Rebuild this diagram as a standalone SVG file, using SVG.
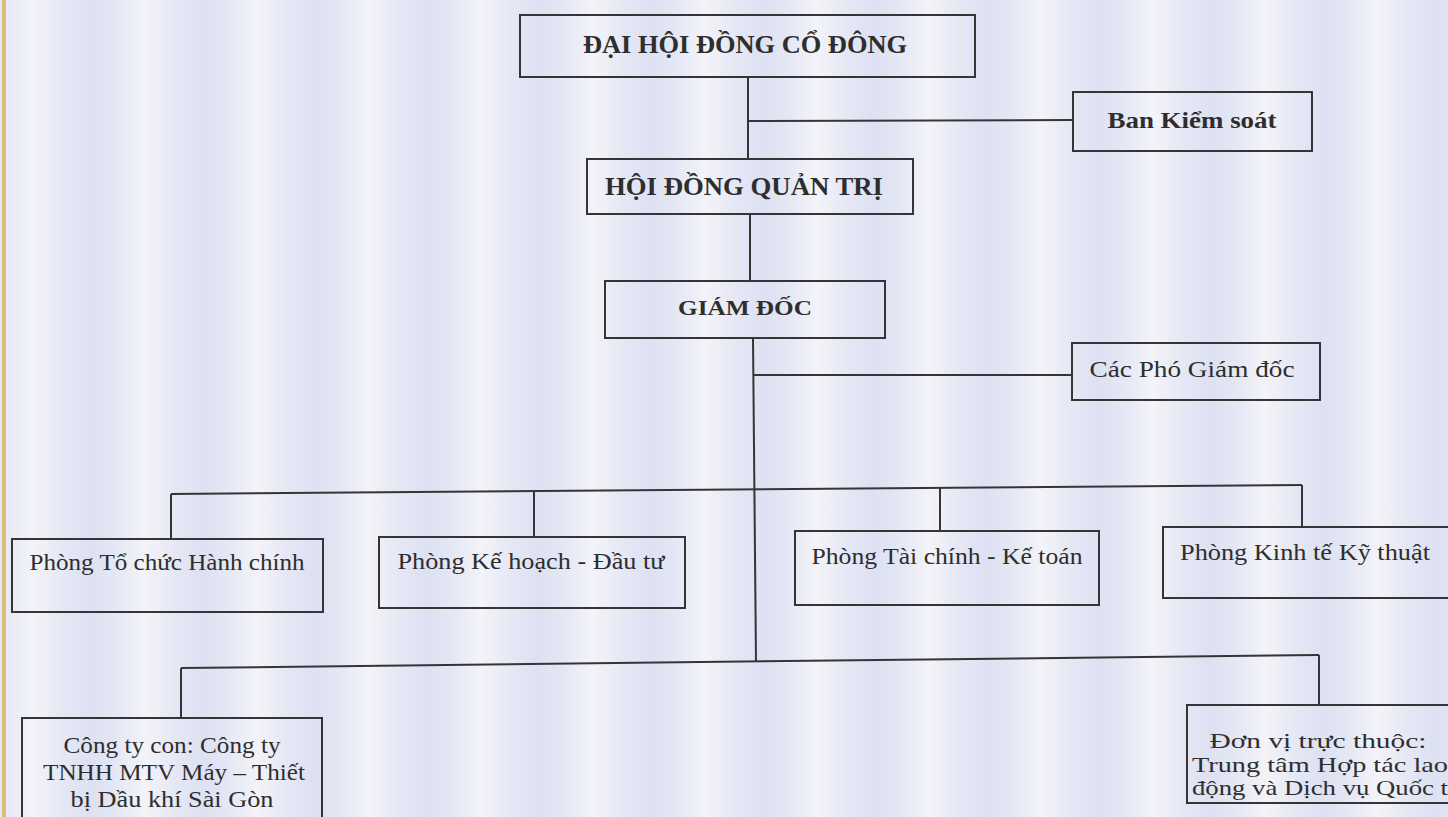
<svg xmlns="http://www.w3.org/2000/svg" width="1448" height="817" viewBox="0 0 1448 817">
<defs>
<linearGradient id="stripes" gradientUnits="userSpaceOnUse" x1="0" y1="0" x2="112" y2="0" spreadMethod="repeat">
<stop offset="0" stop-color="#e3e6f4"/>
<stop offset="0.3" stop-color="#f3f3f8"/>
<stop offset="0.55" stop-color="#e6e8f5"/>
<stop offset="0.8" stop-color="#dde1f2"/>
<stop offset="1" stop-color="#e3e6f4"/>
</linearGradient>
<style>
.box{fill:none;stroke:#353535;stroke-width:2}
.ln{fill:none;stroke:#353535;stroke-width:2}
.b{font-family:"Liberation Serif","Times New Roman",serif;font-weight:bold;fill:#2e2e2e;text-anchor:middle}
.r{font-family:"Liberation Serif","Times New Roman",serif;fill:#2e2e2e;text-anchor:middle}
</style>
</defs>
<rect x="0" y="0" width="1448" height="817" fill="url(#stripes)"/>
<rect x="2" y="0" width="4" height="817" fill="#d9bd78"/>
<g id="connectors">
<line class="ln" x1="748" y1="77" x2="748" y2="159"/>
<line class="ln" x1="748" y1="121" x2="1073" y2="120"/>
<line class="ln" x1="750" y1="214" x2="750" y2="281"/>
<line class="ln" x1="753" y1="338" x2="756" y2="662"/>
<line class="ln" x1="753" y1="375" x2="1072" y2="375"/>
<line class="ln" x1="171" y1="494" x2="1302" y2="485"/>
<line class="ln" x1="171" y1="494" x2="171" y2="539"/>
<line class="ln" x1="534" y1="491" x2="534" y2="537"/>
<line class="ln" x1="940" y1="488" x2="940" y2="531"/>
<line class="ln" x1="1302" y1="485" x2="1302" y2="527"/>
<line class="ln" x1="181" y1="668" x2="1319" y2="655"/>
<line class="ln" x1="181" y1="668" x2="181" y2="718"/>
<line class="ln" x1="1319" y1="655" x2="1319" y2="705"/>
</g>
<g id="dhdcd">
<rect class="box" x="520" y="15" width="455" height="62"/>
<text class="b" x="745" y="53" font-size="25" textLength="324" lengthAdjust="spacingAndGlyphs">ĐẠI HỘI ĐỒNG CỔ ĐÔNG</text>
</g>
<g id="bks">
<rect class="box" x="1073" y="92" width="239" height="59"/>
<text class="b" x="1192" y="128" font-size="23" textLength="169" lengthAdjust="spacingAndGlyphs">Ban Kiểm soát</text>
</g>
<g id="hdqt">
<rect class="box" x="587" y="159" width="326" height="55"/>
<text class="b" x="744" y="195" font-size="25" textLength="278" lengthAdjust="spacingAndGlyphs">HỘI ĐỒNG QUẢN TRỊ</text>
</g>
<g id="gd">
<rect class="box" x="605" y="281" width="280" height="57"/>
<text class="b" x="745" y="315" font-size="21" textLength="134" lengthAdjust="spacingAndGlyphs">GIÁM ĐỐC</text>
</g>
<g id="pgd">
<rect class="box" x="1072" y="343" width="248" height="57"/>
<text class="r" x="1192" y="377" font-size="23" textLength="205" lengthAdjust="spacingAndGlyphs">Các Phó Giám đốc</text>
</g>
<g id="p1">
<rect class="box" x="12" y="539" width="311" height="73"/>
<text class="r" x="167" y="570" font-size="24" textLength="275" lengthAdjust="spacingAndGlyphs">Phòng Tổ chức Hành chính</text>
</g>
<g id="p2">
<rect class="box" x="379" y="537" width="306" height="71"/>
<text class="r" x="531" y="569" font-size="24" textLength="267" lengthAdjust="spacingAndGlyphs">Phòng Kế hoạch - Đầu tư</text>
</g>
<g id="p3">
<rect class="box" x="795" y="531" width="304" height="74"/>
<text class="r" x="947" y="564" font-size="24" textLength="271" lengthAdjust="spacingAndGlyphs">Phòng Tài chính - Kế toán</text>
</g>
<g id="p4">
<rect class="box" x="1163" y="527" width="300" height="71"/>
<text class="r" x="1305" y="560" font-size="24" textLength="250" lengthAdjust="spacingAndGlyphs">Phòng Kinh tế Kỹ thuật</text>
</g>
<g id="cty">
<rect class="box" x="22" y="718" width="300" height="110"/>
<text class="r" x="172" y="753" font-size="23" textLength="217" lengthAdjust="spacingAndGlyphs">Công ty con: Công ty</text>
<text class="r" x="174" y="780" font-size="23" textLength="262" lengthAdjust="spacingAndGlyphs">TNHH MTV Máy – Thiết</text>
<text class="r" x="172" y="807" font-size="23" textLength="203" lengthAdjust="spacingAndGlyphs">bị Dầu khí Sài Gòn</text>
</g>
<g id="dvtt">
<rect class="box" x="1187" y="705" width="280" height="98"/>
<text class="r" x="1318" y="748" font-size="22" textLength="217" lengthAdjust="spacingAndGlyphs">Đơn vị trực thuộc:</text>
<text class="r" x="1320" y="772" font-size="22" textLength="256" lengthAdjust="spacingAndGlyphs">Trung tâm Hợp tác lao</text>
<text class="r" x="1320" y="795" font-size="22" textLength="256" lengthAdjust="spacingAndGlyphs">động và Dịch vụ Quốc t</text>
</g>
</svg>
